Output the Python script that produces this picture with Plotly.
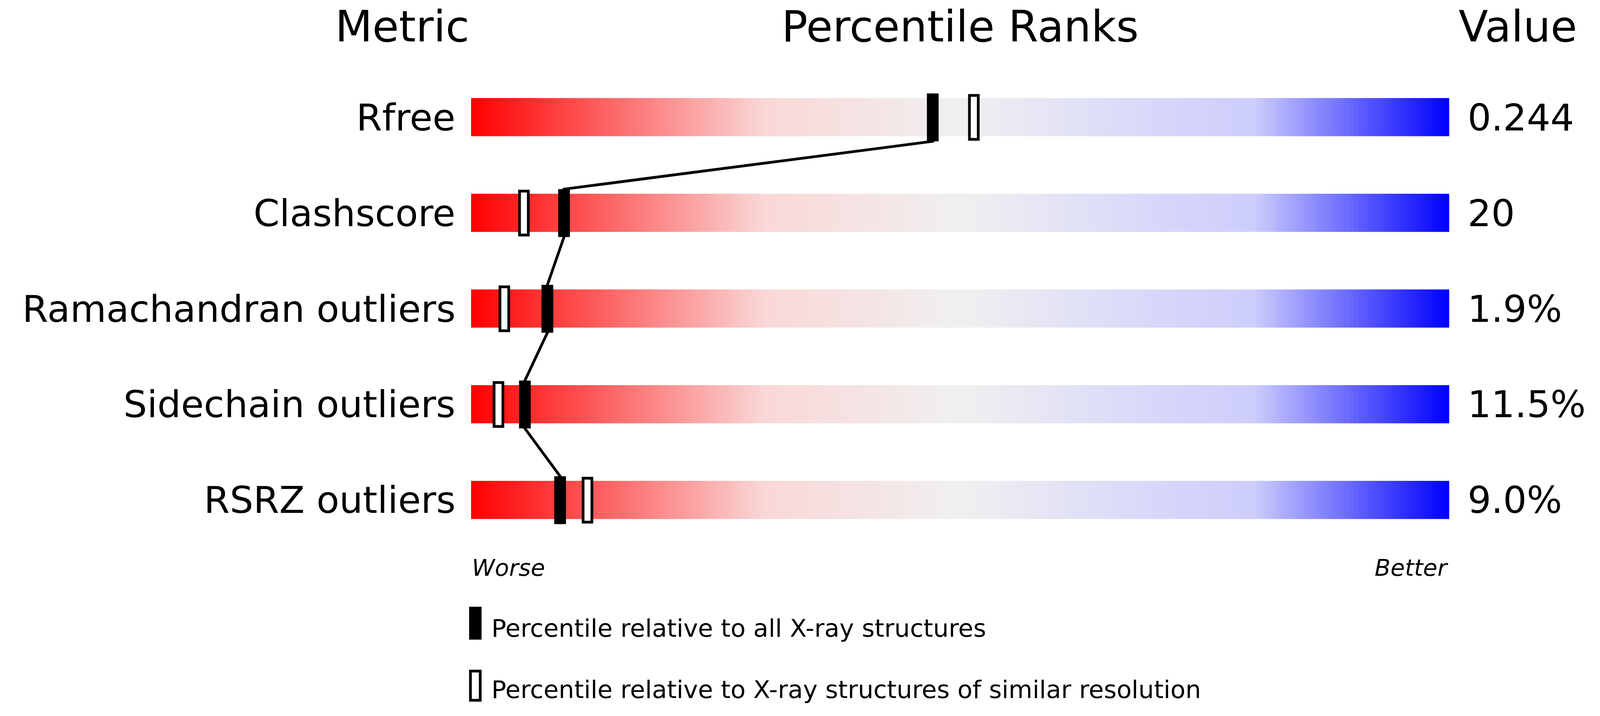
import plotly.graph_objects as go
import numpy as np

metrics = ["Rfree", "Clashscore", "Ramachandran outliers", "Sidechain outliers", "RSRZ outliers"]
values = ["0.244", "20", "1.9%", "11.5%", "9.0%"]
pct_all = [47.2, 9.5, 7.8, 5.5, 9.1]
pct_similar = [51.4, 5.4, 3.4, 2.8, 11.9]

# reference geometry (4858x1833), rendered into a canvas that fits the viewport
RW, RH = 4858, 1833
W, H = 4060, 1800
sx, sy = W / RW, H / RH
fs = 0.85
RL, RR, RT, RB = 1434, 4430, 173, 1421
L, R, T, B = RL * sx, RR * sx, RT * sy, RB * sy
def px(X): return (X - RL) / (RR - RL)
def py(Y): return 1 - (Y - RT) / (RB - RT)

xs = np.linspace(0, 100, 201)
z = [list(xs) for _ in metrics]
cs = [[0, "rgb(255,0,0)"], [0.3, "rgb(250,215,215)"], [0.5, "rgb(240,240,240)"],
      [0.7, "rgb(215,215,250)"], [0.8, "rgb(205,205,252)"], [1, "rgb(0,0,255)"]]
fig = go.Figure(go.Heatmap(x=xs, y=list(range(len(metrics))), z=z, colorscale=cs,
                           showscale=False, ygap=150 * sy, hoverinfo="skip"))

hh, hw = 0.25, 0.6
lx, ly = [], []
for i, p in enumerate(pct_all):
    lx += [p, p]; ly += [i - hh, i + hh]
fig.add_trace(go.Scatter(x=lx, y=ly, mode="lines", line=dict(color="black", width=7), hoverinfo="skip"))

shapes = []
for i in range(len(metrics)):
    p = pct_all[i]
    shapes.append(dict(type="rect", x0=p - hw, x1=p + hw, y0=i - hh, y1=i + hh,
                       fillcolor="black", line=dict(width=0)))
    s = pct_similar[i]
    shapes.append(dict(type="rect", x0=s - 0.45, x1=s + 0.45, y0=i - hh + 0.02, y1=i + hh - 0.02,
                       fillcolor="white", line=dict(color="black", width=7)))
shapes.append(dict(type="rect", xref="paper", yref="paper", x0=px(1428), x1=px(1466), y0=py(1660), y1=py(1574),
                   fillcolor="black", line=dict(width=0)))
shapes.append(dict(type="rect", xref="paper", yref="paper", x0=px(1432), x1=px(1462), y0=py(1818), y1=py(1742),
                   fillcolor="white", line=dict(color="black", width=7)))

F = "DejaVu Sans"
ann = []
def A(text, X, Y, size, xanchor="center", italic=False):
    ann.append(dict(text=text, xref="paper", yref="paper", x=px(X), y=py(Y), showarrow=False,
                    xanchor=xanchor, yanchor="middle",
                    font=dict(family=F, size=size * fs, color="black", style="italic" if italic else "normal")))
A("Metric", 1224, 60, 130)
A("Percentile Ranks", 2932, 60, 130)
A("Value", 4640, 60, 130)
for i, m in enumerate(metrics):
    Y = 298 + i * 249.5
    A(m, 1388, Y, 112, "right")
    A(values[i], 4484, Y, 112, "left")
A("Worse", 1434, 1472, 70, "left", True)
A("Better", 4430, 1472, 70, "right", True)
A("Percentile relative to all X-ray structures", 1494, 1630, 74, "left")
A("Percentile relative to X-ray structures of similar resolution", 1494, 1790, 74, "left")

fig.update_layout(width=W, height=H, margin=dict(l=L, r=W - R, t=T, b=H - B),
                  plot_bgcolor="white", paper_bgcolor="white", showlegend=False,
                  shapes=shapes, annotations=ann,
                  xaxis=dict(range=[0, 100], visible=False, fixedrange=True),
                  yaxis=dict(range=[4.5, -0.5], visible=False, fixedrange=True))
fig.write_html("out.html")
